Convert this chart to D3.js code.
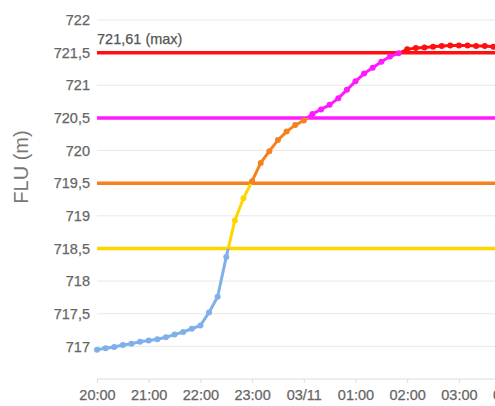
<!DOCTYPE html>
<html><head><meta charset="utf-8">
<script src="https://cdn.jsdelivr.net/npm/d3@7"></script>
<style>
html,body{margin:0;padding:0;background:#fff;overflow:hidden}
svg{display:block;font-family:"Liberation Sans",Arial,sans-serif}
</style></head>
<body><svg id="c" width="495" height="406"></svg>
<script>
// Data (10-minute readings starting 02/11 20:00)
const startTime = "2019-11-02T20:00:00";
const levels = [
  716.95, 716.97, 716.99, 717.02, 717.04, 717.07,
  717.09, 717.11, 717.14, 717.18, 717.22, 717.27,
  717.32, 717.52, 717.76, 718.37, 718.93, 719.27,
  719.53, 719.81, 719.99, 720.16, 720.29, 720.39,
  720.46, 720.56, 720.63, 720.70, 720.80, 720.93,
  721.06, 721.18, 721.27, 721.36, 721.44, 721.49,
  721.55, 721.57, 721.58, 721.59, 721.60, 721.61,
  721.61, 721.61, 721.60, 721.60, 721.59, 721.59
];
const thresholds = [718.5, 719.5, 720.5, 721.5];
const bandColors = ["#7fb0ea", "#ffd500", "#f5821f", "#ff1aff", "#ff1010"];
const yTicks = [717, 717.5, 718, 718.5, 719, 719.5, 720, 720.5, 721, 721.5, 722];
const maxLabel = "721,61 (max)";
const yTitle = "FLU (m)";

const svg = d3.select("#c");

// condensed font detection
const probe = svg.append("text").attr("font-size", 20).text("721,61 (max) 20:00");
probe.attr("font-family", "'Liberation Sans'");
const wReg = probe.node().getComputedTextLength();
probe.attr("font-family", "'Liberation Sans Narrow','Arial Narrow'");
const wNar = probe.node().getComputedTextLength();
probe.remove();
const hasNarrow = wNar < wReg * 0.9;
const narrowFamily = hasNarrow ? "'Liberation Sans Narrow','Arial Narrow',sans-serif" : "'Liberation Sans',Arial,sans-serif";
const tickSize = hasNarrow ? 17.5 : 14.5;
function styleTick(sel) {
  sel.attr("font-family", narrowFamily).attr("font-size", tickSize)
     .attr("fill", "#666").attr("stroke", "#666").attr("stroke-width", 0.25);
}

const t0 = new Date(startTime);
const data = levels.map((v, i) => ({t: new Date(+t0 + i * 600000), v}));
const tEnd = new Date(+t0 + 8 * 3600000);

const x = d3.scaleTime().domain([t0, tEnd]).range([97, 97 + 8 * 51.7]);
const y = d3.scaleLinear().domain([716.5, 722]).range([379, 20]);
const right = 600;

// gridlines
svg.append("g").selectAll("line").data(yTicks).join("line")
  .attr("x1", 97).attr("x2", right)
  .attr("y1", d => y(d)).attr("y2", d => y(d))
  .attr("stroke", "#e8e8e8").attr("stroke-width", 1);

// x axis
const xAxis = d3.axisBottom(x).ticks(d3.timeHour.every(1)).tickSize(4).tickPadding(7)
  .tickFormat(d => d.getHours() === 0 ? d3.timeFormat("%d/%m")(d) : d3.timeFormat("%H:%M")(d));
const gx = svg.append("g").attr("transform", "translate(0,379)").call(xAxis);
gx.select(".domain").attr("d", `M97,0H${right}`).attr("stroke", "#dcdcdc");
gx.selectAll(".tick line").attr("stroke", "#dcdcdc");
gx.selectAll(".tick text").call(styleTick);

// y axis labels
const yAxis = d3.axisLeft(y).tickValues(yTicks).tickSize(0).tickPadding(7)
  .tickFormat(d => d3.format(".1~f")(d).replace(".", ","));
const gy = svg.append("g").attr("transform", "translate(97,0)").call(yAxis);
gy.select(".domain").remove();
gy.selectAll(".tick text").call(styleTick);

svg.append("text").attr("transform", "translate(28,167) rotate(-90)")
  .attr("text-anchor", "middle").attr("fill", "#777").attr("font-size", 20)
  .text(yTitle);

// threshold lines
svg.append("g").selectAll("line").data(thresholds).join("line")
  .attr("x1", 97).attr("x2", right)
  .attr("y1", d => y(d)).attr("y2", d => y(d))
  .attr("stroke", (d, i) => bandColors[i + 1]).attr("stroke-width", 3.5);

svg.append("text").attr("x", 97).attr("y", 44).text(maxLabel)
  .call(styleTick).attr("fill", "#555").attr("stroke", "#555");

// band clips
const bounds = [716.5, ...thresholds, 722];
const defs = svg.append("defs");
bandColors.forEach((c, i) => {
  const lo = i === 0 ? 700 : bounds[i];
  const hi = i === bandColors.length - 1 ? 730 : bounds[i + 1];
  defs.append("clipPath").attr("id", "band" + i).append("rect")
    .attr("x", 0).attr("width", 700)
    .attr("y", y(hi)).attr("height", y(lo) - y(hi));
});
const line = d3.line().x(d => x(d.t)).y(d => y(d.v));
bandColors.forEach((c, i) => {
  svg.append("path").datum(data).attr("d", line)
    .attr("fill", "none").attr("stroke", c).attr("stroke-width", 3)
    .attr("stroke-linejoin", "round")
    .attr("clip-path", `url(#band${i})`);
});
const bandOf = v => d3.bisectRight(thresholds, v);
svg.append("g").selectAll("circle").data(data).join("circle")
  .attr("cx", d => x(d.t)).attr("cy", d => y(d.v)).attr("r", 3)
  .attr("fill", d => bandColors[bandOf(d.v)]);
</script></body></html>
